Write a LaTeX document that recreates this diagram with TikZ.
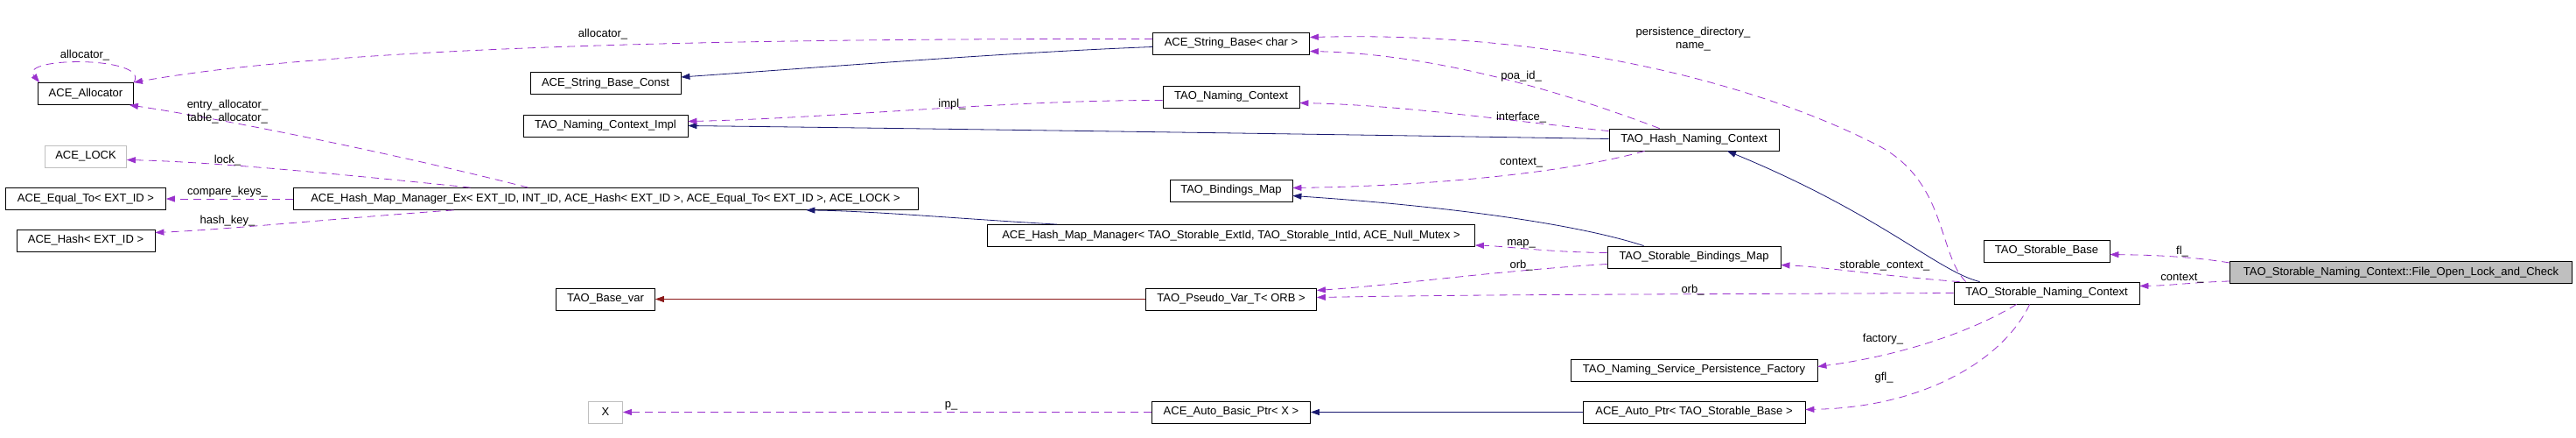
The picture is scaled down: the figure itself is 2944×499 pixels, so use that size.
\documentclass[tikz,border=0pt]{standalone}
\usepackage{fontspec}
\setmainfont{Liberation Sans}
\usetikzlibrary{arrows.meta}
\usetikzlibrary{calc}
\usetikzlibrary{math}

\definecolor{usecol}{HTML}{9A32CD}
\definecolor{pubcol}{HTML}{191970}
\definecolor{privcol}{HTML}{8B1A1A}
\definecolor{boxgray}{HTML}{BFBFBF}

\begin{document}
\begin{tikzpicture}[x=1pt,y=-1pt,line width=0.8pt,font=\fontsize{13}{15}\selectfont,
  cls/.style={draw,rectangle,minimum height=25pt,inner sep=0pt},
  undoc/.style={cls,draw=boxgray},
  focus/.style={cls,fill=boxgray},
  lbl/.style={inner sep=0pt,align=center},
  uses/.style={draw=usecol,dash pattern=on 9pt off 6pt,-{Triangle[length=10pt,width=7pt]}},
  inh/.style={draw=pubcol,-{Triangle[length=10pt,width=7pt]}},
  priv/.style={draw=privcol,-{Triangle[length=10pt,width=7pt]}}]

  \tikzmath{
    \colA = 98;    % x of the left column
    \colB = 692;   % x of the second column
    \colC = 1407;  % x of the middle column
    \colD = 1936;  % x of the fourth column
    \colE = 2339;  % x of the fifth column
    \colF = 2744;  % x of the class itself
  }

  \useasboundingbox (0,0) rectangle (2944,499);

  % first column
  \node[cls, minimum width=109] (alloc) at (\colA, 107) {ACE\_Allocator};
  \node[undoc, minimum width=93] (lock) at (\colA, 178.5) {ACE\_LOCK};
  \node[cls, minimum width=183] (eqto) at (\colA, 227) {ACE\_Equal\_To< EXT\_ID >};
  \node[cls, minimum width=158] (hash) at (\colA, 274.5) {ACE\_Hash< EXT\_ID >};

  % second column
  \node[cls, minimum width=172] (sbconst) at (\colB, 95) {ACE\_String\_Base\_Const};
  \node[cls, minimum width=188] (impl) at (\colB, 143.5) {TAO\_Naming\_Context\_Impl};
  \node[cls, minimum width=714] (hmmex) at (\colB, 227)
    {ACE\_Hash\_Map\_Manager\_Ex< EXT\_ID, INT\_ID, ACE\_Hash< EXT\_ID >, ACE\_Equal\_To< EXT\_ID >, ACE\_LOCK >};
  \node[cls, minimum width=113] (basevar) at (\colB, 341.5) {TAO\_Base\_var};
  \node[undoc, minimum width=39] (xarg) at (\colB, 470.5) {X};

  % middle column
  \node[cls, minimum width=179] (sbchar) at (\colC, 49.5) {ACE\_String\_Base< char >};
  \node[cls, minimum width=156] (tnc) at (\colC, 110.5) {TAO\_Naming\_Context};
  \node[cls, minimum width=140] (bmap) at (\colC, 217.5) {TAO\_Bindings\_Map};
  \node[cls, minimum width=557] (hmm) at (\colC, 269)
    {ACE\_Hash\_Map\_Manager< TAO\_Storable\_ExtId, TAO\_Storable\_IntId, ACE\_Null\_Mutex >};
  \node[cls, minimum width=195] (pvar) at (\colC, 341.5) {TAO\_Pseudo\_Var\_T< ORB >};
  \node[cls, minimum width=181] (abptr) at (\colC, 470.5) {ACE\_Auto\_Basic\_Ptr< X >};

  % fourth column
  \node[cls, minimum width=194] (hnc) at (\colD, 159.5) {TAO\_Hash\_Naming\_Context};
  \node[cls, minimum width=198] (sbm) at (\colD, 293.5) {TAO\_Storable\_Bindings\_Map};
  \node[cls, minimum width=282] (fac) at (\colD, 422.5) {TAO\_Naming\_Service\_Persistence\_Factory};
  \node[cls, minimum width=254] (aptr) at (\colD, 470.5) {ACE\_Auto\_Ptr< TAO\_Storable\_Base >};

  % fifth column and the class itself
  \node[cls, minimum width=144] (sbase) at (\colE, 286.5) {TAO\_Storable\_Base};
  \node[cls, minimum width=212] (snc) at (\colE, 334.5) {TAO\_Storable\_Naming\_Context};
  \node[focus, minimum width=391] (folc) at (\colF, 311)
    {TAO\_Storable\_Naming\_Context::File\_Open\_Lock\_and\_Check};

  % inheritance
  \draw[inh] ($(sbchar.west)+(0,4)$) .. controls (1150,60) and (950,76) .. ($(sbconst.east)+(0,-7)$);
  \draw[inh] ($(hnc.west)+(0,-1)$) .. controls (1500,153) and (1000,146) .. (impl.east);
  \draw[inh] ($(snc.north west)+(30,0)$) .. controls (2215,310) and (2150,245) .. ($(hnc.south)+(38,0)$);
  \draw[inh] ($(sbm.north west)+(42,0)$) .. controls (1800,255) and (1650,235) .. ($(bmap.east)+(0,6)$);
  \draw[inh] ($(hmm.north west)+(80,0)$) .. controls (1100,250) and (1000,241) .. ($(hmmex.south east)+(-128,0)$);
  \draw[inh] (aptr.west) -- (abptr.east);
  \draw[priv] (pvar.west) -- (basevar.east);

  % members of ACE_String_Base and ACE_Hash_Map_Manager_Ex
  \draw[uses] ($(sbchar.west)+(0,-5)$) .. controls (900,44) and (400,50) .. (alloc.north east);
  \node[lbl] (l-alloc) at (689,39) {allocator\_};
  \draw[uses] (alloc.north east) .. controls +(20,-30) and +(-25,-30) .. ($(alloc.north west)+(2,0)$);
  \node[lbl] (l-self) at (97,63) {allocator\_};
  \draw[uses] ($(hmmex.north west)+(269,0)$) .. controls (450,175) and (250,135) .. ($(alloc.south east)+(-5,0)$);
  \node[lbl] (l-entry) at (260,127.5) {entry\_allocator\_\\table\_allocator\_};
  \draw[uses] ($(hmmex.north west)+(203,0)$) .. controls (400,200) and (250,185) .. ($(lock.east)+(0,4)$);
  \node[lbl] (l-lock) at (260,183) {lock\_};
  \draw[uses] (hmmex.west) -- (eqto.east);
  \node[lbl] (l-cmp) at (260,219) {compare\_keys\_};
  \draw[uses] ($(hmmex.south west)+(184,0)$) .. controls (400,248) and (260,262) .. ($(hash.east)+(0,-9)$);
  \node[lbl] (l-hash) at (260,252) {hash\_key\_};
  \draw[uses] ($(tnc.west)+(0,4)$) .. controls (1150,114) and (950,135) .. ($(impl.east)+(0,-5)$);
  \node[lbl] (l-impl) at (1088,119) {impl\_};
  \draw[uses] (abptr.west) -- (xarg.east);
  \node[lbl] (l-p) at (1087,463) {p\_};

  % members of TAO_Hash_Naming_Context and TAO_Storable_Bindings_Map
  \draw[uses] ($(hnc.north west)+(58,0)$) .. controls (1800,110) and (1650,62) .. ($(sbchar.east)+(0,9)$);
  \node[lbl] (l-poa) at (1738.6,87) {poa\_id\_};
  \draw[uses] ($(hnc.north west)+(0,3)$) .. controls (1700,135) and (1600,120) .. ($(tnc.east)+(0,7)$);
  \node[lbl] (l-intf) at (1738.6,134) {interface\_};
  \draw[uses] ($(hnc.south west)+(41,0)$) .. controls (1800,195) and (1650,212) .. ($(bmap.east)+(0,-3)$);
  \node[lbl] (l-ctx) at (1738.6,186) {context\_};
  \draw[uses] ($(sbm.west)+(0,-5)$) .. controls (1770,288) and (1720,281) .. ($(hmm.east)+(0,11)$);
  \node[lbl] (l-map) at (1738.6,278) {map\_};
  \draw[uses] ($(sbm.west)+(0,8)$) .. controls (1700,310) and (1600,325) .. ($(pvar.east)+(0,-10)$);
  \node[lbl] (l-orb) at (1738.6,303) {orb\_};

  % members of TAO_Storable_Naming_Context
  \draw[uses] ($(snc.north west)+(14,0)$) .. controls (2215,290) and (2225,210) .. (2150,168)
    .. controls (2030,105) and (1800,35) .. ($(sbchar.east)+(0,-7)$);
  \node[lbl] (l-pers) at (1935,45) {persistence\_directory\_\\name\_};
  \draw[uses] ($(snc.north west)+(7,0)$) .. controls (2150,315) and (2090,305) .. ($(sbm.east)+(0,9)$);
  \node[lbl] (l-stor) at (2154,303) {storable\_context\_};
  \draw[uses] (snc.west) .. controls (1900,336) and (1700,336) .. ($(pvar.east)+(0,-2)$);
  \node[lbl] (l-orb2) at (1934.5,331) {orb\_};
  \draw[uses] ($(snc.south west)+(72,0)$) .. controls (2260,375) and (2180,405) .. ($(fac.east)+(0,-4)$);
  \node[lbl] (l-fac) at (2152,387) {factory\_};
  \draw[uses] ($(snc.south west)+(87,0)$) .. controls (2290,410) and (2200,465) .. ($(aptr.east)+(0,-3)$);
  \node[lbl] (l-gfl) at (2153,431) {gfl\_};

  % members of the class itself
  \draw[uses] ($(folc.west)+(0,-11)$) .. controls (2500,292) and (2450,291) .. ($(sbase.east)+(0,4)$);
  \node[lbl] (l-fl) at (2494,287) {fl\_};
  \draw[uses] ($(folc.west)+(0,10)$) .. controls (2510,322) and (2480,326) .. ($(snc.east)+(0,-8)$);
  \node[lbl] (l-ctx2) at (2494,318) {context\_};

\end{tikzpicture}
\end{document}
